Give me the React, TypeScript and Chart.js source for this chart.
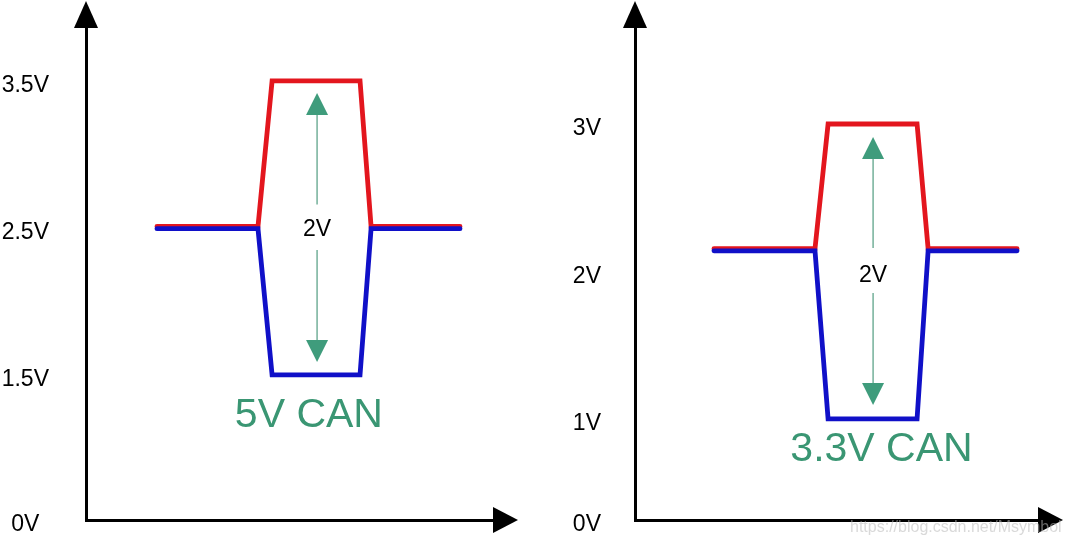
import React, { useEffect, useRef } from 'react';
import { Chart, registerables, LinearScale } from 'chart.js';

Chart.register(...registerables);

// ---- data ----
// left panel: 5V CAN
const leftTime = [3.47, 8.41, 9.1, 13.4, 13.94, 18.29];
const leftCanH = [2.51, 2.51, 3.5, 3.5, 2.51, 2.51];
const leftCanL = [2.495, 2.495, 1.5, 1.5, 2.495, 2.495];
const leftTicks = [0, 1.5, 2.5, 3.5];
const leftDiffArrow = [3.418, 1.588]; // tip values of the green double arrow
const leftDiffGap = [2.66, 2.35];
const leftDiffLabel = '2V';
const leftTitle = '5V CAN';

// right panel: 3.3V CAN
const rightTime = [3.86, 8.8, 9.44, 13.79, 14.33, 18.68];
const rightCanH = [2.155, 2.155, 3, 3, 2.155, 2.155];
const rightCanL = [2.14, 2.14, 1, 1, 2.14, 2.14];
const rightTicks = [0, 1, 2, 3];
const rightDiffArrow = [2.912, 1.095];
const rightDiffGap = [2.16, 1.854];
const rightDiffLabel = '2V';
const rightTitle = '3.3V CAN';

const watermark = 'https://blog.csdn.net/Msymbol';

const RED = '#E3161E';
const BLUE = '#1010C8';
const GREEN = '#3A9673';
const FONT = '"Liberation Sans", Arial, sans-serif';

Chart.defaults.font.family = FONT;

// A linear scale with a compressed section below `breakAt` (schematic broken axis)
class BrokenLinearScale extends LinearScale {
  static id = 'brokenLinear';
  _brk() {
    const o: any = this.options;
    const b = o.breakAt ?? this.min;
    const k = o.compress ?? 1;
    const lower = k * (b - this.min);
    const total = lower + (this.max - b);
    return { b, k, lower, total };
  }
  getPixelForValue(value: number) {
    const { b, k, lower, total } = this._brk();
    const d = value <= b ? (k * (value - this.min)) / total : (lower + (value - b)) / total;
    return this.getPixelForDecimal(d);
  }
  getValueForPixel(pixel: number) {
    const { b, k, lower, total } = this._brk();
    const t = this.getDecimalForPixel(pixel) * total;
    return t <= lower ? this.min + t / k : b + (t - lower);
  }
}
Chart.register(BrokenLinearScale as any);

type PanelCfg = {
  time: number[];
  canH: number[];
  canL: number[];
  ticks: number[];
  yMax: number;
  compress: number;
  xMax: number;
  axisWidth: number;
  labelPad: number;
  padRight: number;
  arrowX: number;
  arrow: number[];
  gap: number[];
  diffLabel: string;
  diffLabelY: number;
  title: string;
  titleX: number;
  titleY: number;
  watermark?: string;
};

const leftCfg: PanelCfg = {
  time: leftTime, canH: leftCanH, canL: leftCanL, ticks: leftTicks,
  yMax: 3.86, compress: 0.487, xMax: 20, axisWidth: 86, labelPad: 37, padRight: 38,
  arrowX: 11.3, arrow: leftDiffArrow, gap: leftDiffGap, diffLabel: leftDiffLabel, diffLabelY: 2.486,
  title: leftTitle, titleX: 10.9, titleY: 1.22,
};

const rightCfg: PanelCfg = {
  time: rightTime, canH: rightCanH, canL: rightCanL, ticks: rightTicks,
  yMax: 3.651, compress: 0.685, xMax: 19.8, axisWidth: 102, labelPad: 34, padRight: 27,
  arrowX: 11.64, arrow: rightDiffArrow, gap: rightDiffGap, diffLabel: rightDiffLabel, diffLabelY: 1.97,
  title: rightTitle, titleX: 12.05, titleY: 0.693, watermark,
};

function overlay(cfg: PanelCfg) {
  return {
    id: 'overlay',
    afterDatasetsDraw(chart: any) {
      const ctx = chart.ctx as CanvasRenderingContext2D;
      const xs = chart.scales.x;
      const ys = chart.scales.y;
      const ax = xs.getPixelForValue(cfg.arrowX);
      const top = ys.getPixelForValue(cfg.arrow[0]);
      const bot = ys.getPixelForValue(cfg.arrow[1]);
      const g1 = ys.getPixelForValue(cfg.gap[0]);
      const g2 = ys.getPixelForValue(cfg.gap[1]);
      const head = 22;
      ctx.save();
      // shaft
      ctx.strokeStyle = 'rgba(70,150,120,0.75)';
      ctx.lineWidth = 1.5;
      ctx.beginPath();
      ctx.moveTo(ax, top + head);
      ctx.lineTo(ax, g1);
      ctx.moveTo(ax, g2);
      ctx.lineTo(ax, bot - head);
      ctx.stroke();
      // heads
      ctx.fillStyle = '#3F9C7C';
      ctx.beginPath();
      ctx.moveTo(ax, top);
      ctx.lineTo(ax - 11, top + head);
      ctx.lineTo(ax + 11, top + head);
      ctx.closePath();
      ctx.fill();
      ctx.beginPath();
      ctx.moveTo(ax, bot);
      ctx.lineTo(ax - 11, bot - head);
      ctx.lineTo(ax + 11, bot - head);
      ctx.closePath();
      ctx.fill();
      // 2V label
      ctx.fillStyle = '#000';
      ctx.font = `23px ${FONT}`;
      ctx.textAlign = 'center';
      ctx.textBaseline = 'middle';
      ctx.fillText(cfg.diffLabel, ax, ys.getPixelForValue(cfg.diffLabelY));
      // title
      ctx.fillStyle = GREEN;
      ctx.font = `41px ${FONT}`;
      ctx.fillText(cfg.title, xs.getPixelForValue(cfg.titleX), ys.getPixelForValue(cfg.titleY));
      ctx.restore();
    },
    afterDraw(chart: any) {
      const ctx = chart.ctx as CanvasRenderingContext2D;
      const { left, right, top, bottom } = chart.chartArea;
      ctx.save();
      ctx.fillStyle = '#000';
      // y axis arrow head
      ctx.beginPath();
      ctx.moveTo(left, top - 27);
      ctx.lineTo(left - 12, top);
      ctx.lineTo(left + 12, top);
      ctx.closePath();
      ctx.fill();
      // x axis arrow head
      ctx.beginPath();
      ctx.moveTo(right + 23, bottom);
      ctx.lineTo(right - 2, bottom - 13);
      ctx.lineTo(right - 2, bottom + 13);
      ctx.closePath();
      ctx.fill();
      if (cfg.watermark) {
        ctx.fillStyle = 'rgba(185,185,185,0.55)';
        ctx.font = `16px ${FONT}`;
        ctx.textAlign = 'left';
        ctx.textBaseline = 'middle';
        ctx.fillText(cfg.watermark, 317, 528);
      }
      ctx.restore();
    },
  };
}

function zeroPad(s: any) {
  s.paddingTop = 0;
  s.paddingBottom = 0;
  s.paddingLeft = 0;
  s.paddingRight = 0;
}

function buildConfig(cfg: PanelCfg): any {
  const pts = (ys: number[]) => cfg.time.map((t, i) => ({ x: t, y: ys[i] }));
  const line = {
    borderWidth: 4.8,
    pointRadius: 0,
    tension: 0,
    borderJoinStyle: 'miter',
    borderCapStyle: 'round',
  };
  return {
    type: 'line',
    data: {
      datasets: [
        { label: 'CAN_L', data: pts(cfg.canL), borderColor: BLUE, order: 0, ...line },
        { label: 'CAN_H', data: pts(cfg.canH), borderColor: RED, order: 1, ...line },
      ],
    },
    options: {
      responsive: false,
      animation: false,
      devicePixelRatio: 1,
      events: [],
      layout: { padding: { top: 28, right: cfg.padRight, left: 0, bottom: 0 } },
      plugins: { legend: { display: false }, tooltip: { enabled: false }, title: { display: false } },
      scales: {
        x: {
          type: 'linear',
          min: 0,
          max: cfg.xMax,
          grid: { display: false, drawTicks: false },
          ticks: { display: false },
          border: { display: true, color: '#000', width: 3 },
          afterFit: (s: any) => { s.height = 25; zeroPad(s); },
        },
        y: {
          type: 'brokenLinear',
          min: 0,
          max: cfg.yMax,
          breakAt: 1,
          compress: cfg.compress,
          grid: { display: false, drawTicks: false },
          border: { display: true, color: '#000', width: 3 },
          afterBuildTicks: (s: any) => { s.ticks = cfg.ticks.map((v) => ({ value: v })); },
          afterFit: (s: any) => { s.width = cfg.axisWidth; zeroPad(s); },
          ticks: {
            autoSkip: false,
            color: '#000',
            font: { size: 23, family: FONT },
            padding: cfg.labelPad,
            crossAlign: 'center',
            labelOffset: 5,
            callback: (v: any) => `${v}V`,
          },
        },
      },
    },
    plugins: [overlay(cfg)],
  };
}

function Panel({ cfg, left, width }: { cfg: PanelCfg; left: number; width: number }) {
  const ref = useRef<HTMLCanvasElement>(null);
  useEffect(() => {
    const chart = new Chart(ref.current as HTMLCanvasElement, buildConfig(cfg));
    return () => chart.destroy();
  }, []);
  return (
    <canvas
      ref={ref}
      width={width}
      height={545}
      style={{ position: 'absolute', left, top: 0, width, height: 545 }}
    />
  );
}

export default function App() {
  return (
    <div style={{ position: 'fixed', left: 0, top: 0, width: 1067, height: 545, background: '#fff', overflow: 'hidden' }}>
      <Panel cfg={leftCfg} left={0} width={533} />
      <Panel cfg={rightCfg} left={533} width={534} />
    </div>
  );
}
